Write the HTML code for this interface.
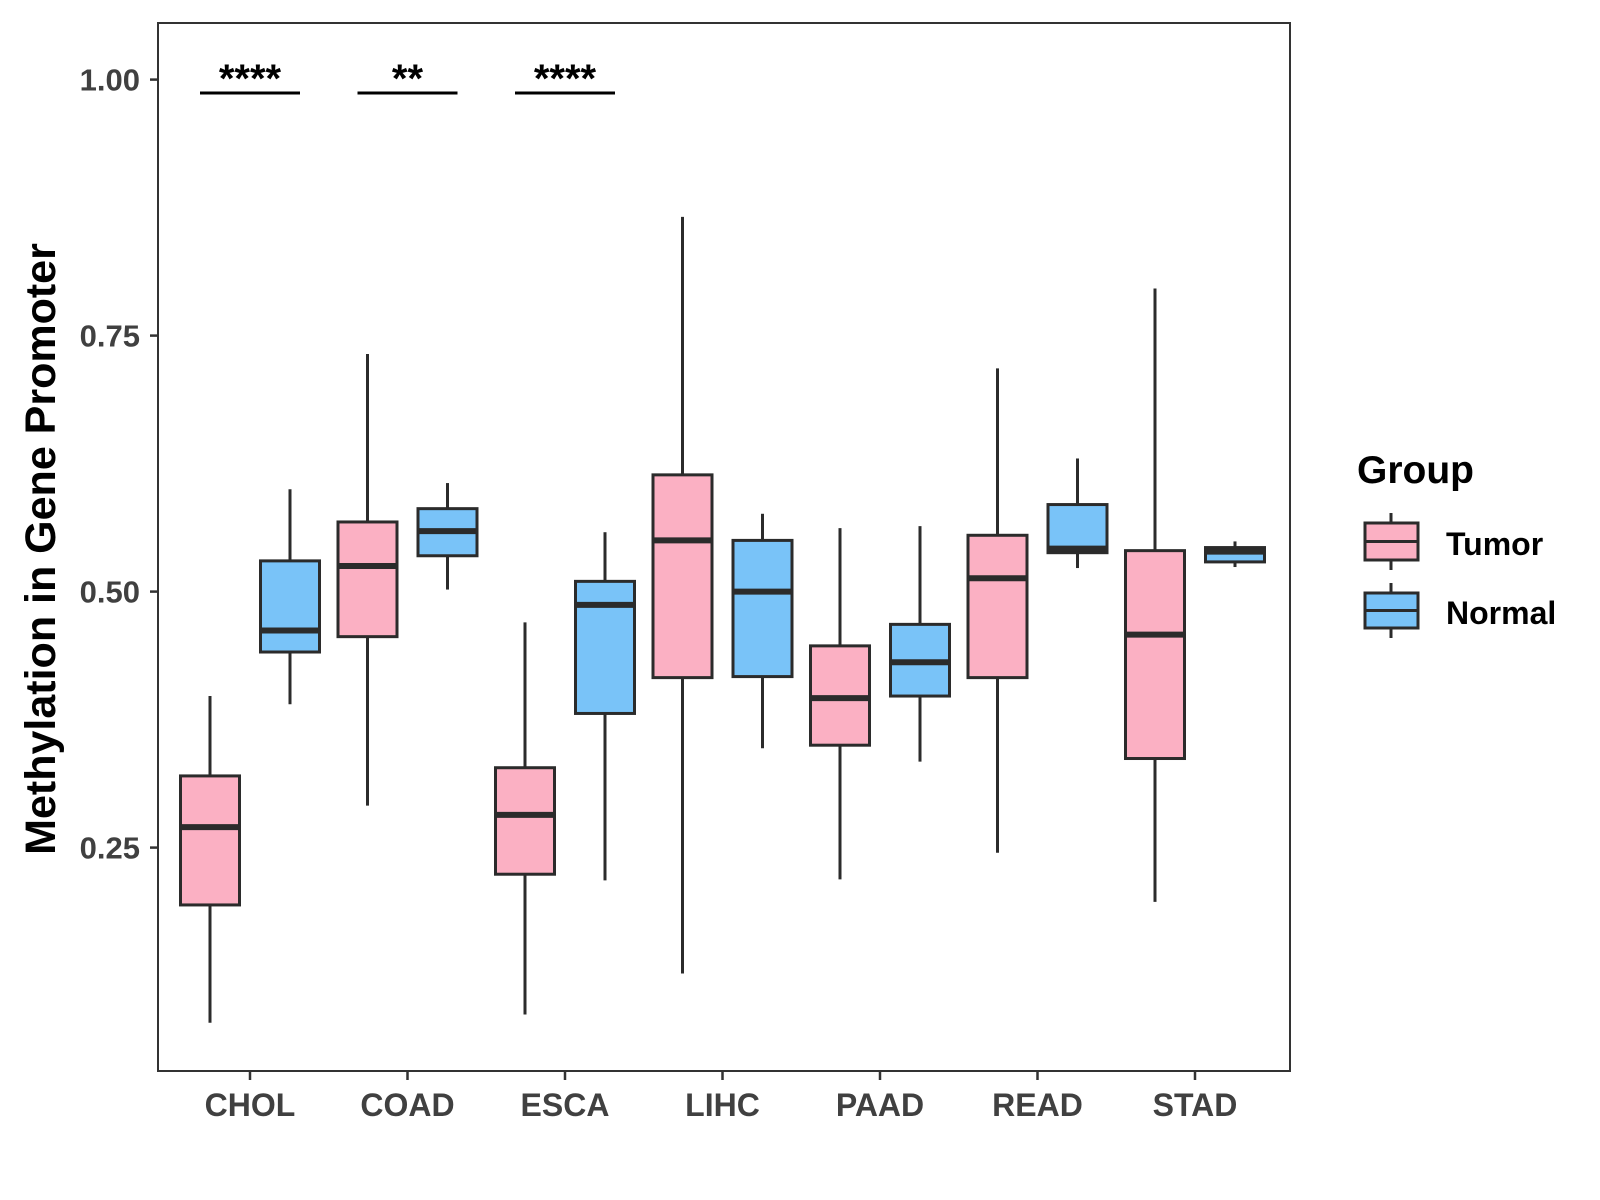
<!DOCTYPE html>
<html><head><meta charset="utf-8"><style>
html,body{margin:0;padding:0;background:#fff;}
svg{display:block;font-family:"Liberation Sans",Arial,sans-serif;}
</style></head><body>
<svg id="chart" width="1600" height="1200" viewBox="0 0 1600 1200" xmlns="http://www.w3.org/2000/svg">
<rect x="0" y="0" width="1600" height="1200" fill="#fff"/>
<g id="plot"></g>
</svg>
<script>
const categories = ["CHOL","COAD","ESCA","LIHC","PAAD","READ","STAD"];
const groups = ["Tumor","Normal"];
// [lowWhisker, q1, median, q3, highWhisker]
const tumorStats = [
  [0.079,0.194,0.270,0.320,0.398],
  [0.291,0.456,0.525,0.568,0.732],
  [0.087,0.224,0.282,0.328,0.470],
  [0.127,0.416,0.550,0.614,0.866],
  [0.219,0.350,0.396,0.447,0.562],
  [0.245,0.416,0.513,0.555,0.718],
  [0.197,0.337,0.458,0.540,0.796]
];
const normalStats = [
  [0.390,0.441,0.462,0.530,0.600],
  [0.502,0.535,0.559,0.581,0.606],
  [0.218,0.381,0.487,0.510,0.558],
  [0.347,0.417,0.500,0.550,0.576],
  [0.334,0.398,0.431,0.468,0.564],
  [0.523,0.538,0.542,0.585,0.630],
  [0.524,0.529,0.539,0.543,0.549]
];
const sigLabels = ["****","**","****","","","",""];
const yTicks = [0.25,0.50,0.75,1.00];
const yTickLabels = ["0.25","0.50","0.75","1.00"];

const NS="http://www.w3.org/2000/svg";
const g=document.getElementById('plot');
const L=158,R=1290,T=23,B=1071;
function y(v){return 79.6+(1-v)*1024;}
function xc(i){return 250+i*157.5;}
const colors={Tumor:"#FBB0C3",Normal:"#79C3F8"};
const dark="#2b2b2b";
function el(tag,attrs,parent){const e=document.createElementNS(NS,tag);for(const k in attrs)e.setAttribute(k,attrs[k]);(parent||g).appendChild(e);return e;}

const panel=el('rect',{x:L,y:T,width:R-L,height:B-T,fill:'none',stroke:'#333','stroke-width':2});



yTicks.forEach((v,i)=>{
  const t=el('line',{x1:L-8,x2:L,y1:y(v),y2:y(v),stroke:'#333','stroke-width':2.5});
  
  
  const tx=el('text',{x:L-18,y:y(v)+11,'text-anchor':'end','font-size':31,'font-weight':'bold',fill:'#404040'});
  tx.textContent=yTickLabels[i];
  
  
});

categories.forEach((c,i)=>{
  const t=el('line',{x1:xc(i),x2:xc(i),y1:B,y2:B+9,stroke:'#333','stroke-width':2.5});
  
  
  const tx=el('text',{x:xc(i),y:B+45,'text-anchor':'middle','font-size':32,'font-weight':'bold',fill:'#404040'});
  tx.textContent=c;
  
  
});

function drawBox(cx,s,fill,name){
  const bw=59;
  const grp=el('g',{});
  
  
  el('line',{x1:cx,x2:cx,y1:y(s[4]),y2:y(s[3]),stroke:dark,'stroke-width':3},grp);
  el('line',{x1:cx,x2:cx,y1:y(s[1]),y2:y(s[0]),stroke:dark,'stroke-width':3},grp);
  el('rect',{x:cx-bw/2,y:y(s[3]),width:bw,height:y(s[1])-y(s[3]),fill:fill,stroke:dark,'stroke-width':3},grp);
  el('line',{x1:cx-bw/2,x2:cx+bw/2,y1:y(s[2]),y2:y(s[2]),stroke:dark,'stroke-width':6},grp);
}
categories.forEach((c,i)=>{
  drawBox(xc(i)-40,tumorStats[i],colors.Tumor,'box-tumor-'+c.toLowerCase());
  drawBox(xc(i)+40,normalStats[i],colors.Normal,'box-normal-'+c.toLowerCase());
  if(sigLabels[i]){
    const ln=el('line',{x1:xc(i)-50,x2:xc(i)+50,y1:93,y2:93,stroke:'#000','stroke-width':3});
    
    
    const st=el('text',{x:xc(i),y:92,'text-anchor':'middle','font-size':40,'font-weight':'bold',fill:'#000'});
    st.textContent=sigLabels[i];
    
    
  }
});

const yt=el('text',{x:0,y:0,transform:'translate(55,549) rotate(-90)','text-anchor':'middle','font-size':43,'font-weight':'bold',fill:'#000'});
yt.textContent='Methylation in Gene Promoter';



const lg=el('g',{});


const ltitle=el('text',{x:1357,y:483,'font-size':39,'font-weight':'bold',fill:'#000'},lg);
ltitle.textContent='Group';


const legY=[[513,523,560,570,555],[583,593,628,638,624]];
groups.forEach((gname,i)=>{
  const e=el('g',{},lg);
  
  
  const [w0,b0,b1,w1,tb]=legY[i];
  el('line',{x1:1391,x2:1391,y1:w0,y2:w1,stroke:dark,'stroke-width':3},e);
  el('rect',{x:1365,y:b0,width:53,height:b1-b0,fill:colors[gname],stroke:dark,'stroke-width':3},e);
  el('line',{x1:1365,x2:1418,y1:(b0+b1)/2,y2:(b0+b1)/2,stroke:dark,'stroke-width':3},e);
  const t=el('text',{x:1446,y:tb,'font-size':32,'font-weight':'bold',fill:'#000'},e);
  t.textContent=gname;
  
  
});
</script>
</body></html>
